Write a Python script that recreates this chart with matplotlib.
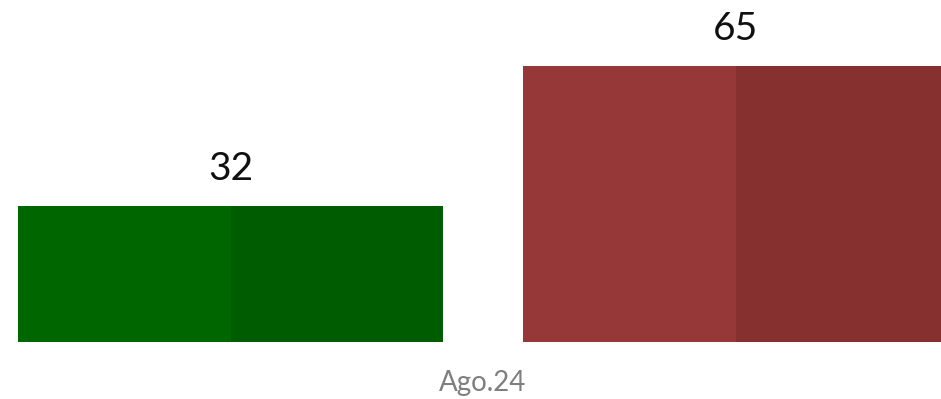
import matplotlib
matplotlib.use("Agg")
import matplotlib.pyplot as plt

# Data
period_label = "Ago.24"
values = [32, 65]
positions = [0, 1]
face_left = ["#006600", "#963838"]
face_right = ["#005c00", "#863030"]

plt.rcParams["font.family"] = ["Lato", "DejaVu Sans"]

DPI = 100
W, H = 941, 399
fig = plt.figure(figsize=(W / DPI, H / DPI), dpi=DPI)

baseline_px = 342          # distance from top of figure to the bar baseline
px_per_unit = 4.24         # vertical pixels per value unit
center0_px = 230.5         # horizontal pixel of first bar centre
step_px = 505.0            # pixels between bar centres

ax = fig.add_axes([0, (H - baseline_px) / H, 1, baseline_px / H])
ax.set_ylim(0, baseline_px / px_per_unit)
ax.set_xlim(-center0_px / step_px, (W - center0_px) / step_px)
ax.axis("off")

bar_w = 425 / step_px
for x, v, cl, cr in zip(positions, values, face_left, face_right):
    ax.bar(x - bar_w / 2, v, width=bar_w / 2, align="edge", color=cl, linewidth=0)
    ax.bar(x, v, width=bar_w / 2, align="edge", color=cr, linewidth=0)
    ax.annotate(str(v), xy=(x, v), xytext=(0, 19), textcoords="offset points",
                ha="center", va="baseline", fontsize=28, color="#111111")

ax.annotate(period_label, xy=(sum(positions) / len(positions), 0),
            xytext=(0, -35.3), textcoords="offset points",
            ha="center", va="baseline", fontsize=20, color="#7f7f7f",
            annotation_clip=False)

fig.savefig("out.png", dpi=DPI)
